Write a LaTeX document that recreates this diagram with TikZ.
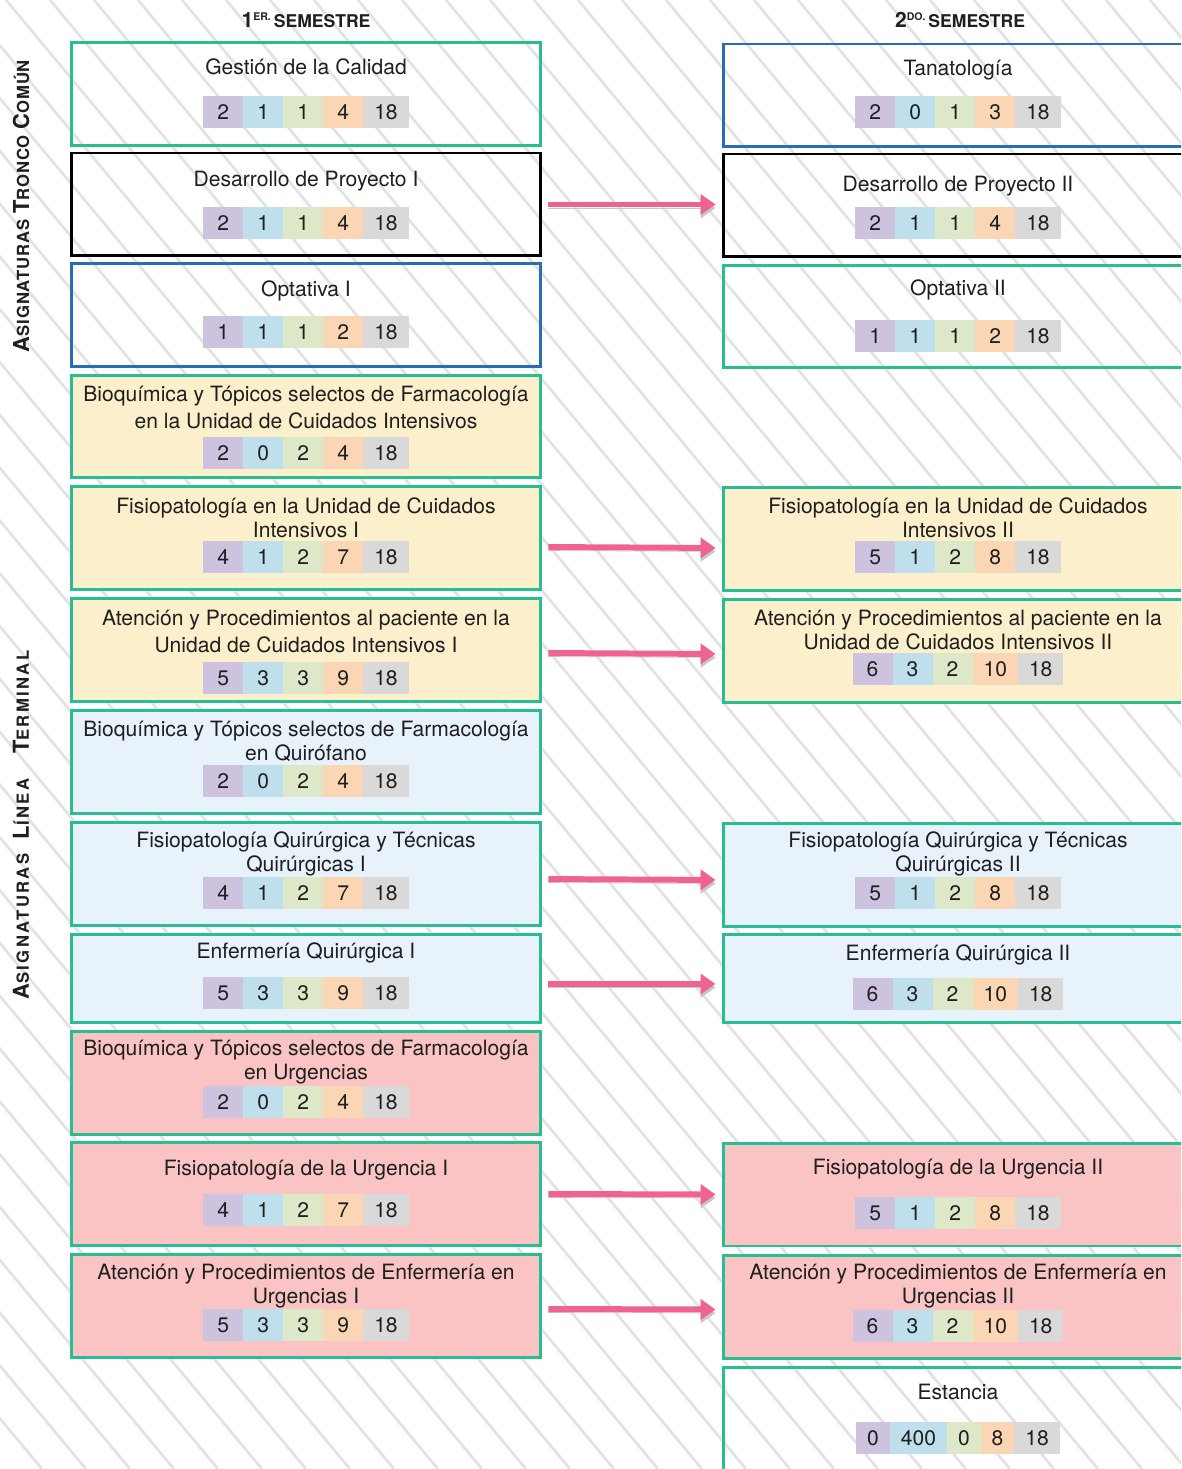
\documentclass[tikz,border=0pt]{standalone}
\usepackage{fontspec}
\setmainfont{TeX Gyre Heros}
\newfontfamily\sidefontA[LetterSpace=5]{TeX Gyre Heros}
\newfontfamily\sidefontB[LetterSpace=14]{TeX Gyre Heros}
\usetikzlibrary{arrows.meta}

\definecolor{tealb}{RGB}{40,190,145}
\definecolor{blueb}{RGB}{40,110,180}
\definecolor{cyel}{RGB}{252,240,204}
\definecolor{csky}{RGB}{232,242,251}
\definecolor{cpink}{RGB}{250,196,196}
\definecolor{cpur}{RGB}{205,195,223}
\definecolor{cblu}{RGB}{190,223,235}
\definecolor{cgrn}{RGB}{220,232,200}
\definecolor{corg}{RGB}{250,214,180}
\definecolor{cgry}{RGB}{217,217,217}
\definecolor{arrowpink}{RGB}{240,98,146}

\setlength{\fboxsep}{0pt}
\newlength\cellw
\newlength\cellmin
\setlength{\cellmin}{0.8cm}
\newcommand{\cellbox}[2]{%
  \settowidth{\cellw}{#2}%
  \addtolength{\cellw}{0.44cm}%
  \ifdim\cellw<\cellmin \setlength{\cellw}{\cellmin}\fi
  \colorbox{#1}{\makebox[\cellw]{\rule[-0.17cm]{0pt}{0.64cm}#2}}}
\newcommand{\cells}[5]{\cellbox{cpur}{#1}\cellbox{cblu}{#2}\cellbox{cgrn}{#3}\cellbox{corg}{#4}\cellbox{cgry}{#5}}
\newcommand{\capsc}[2]{{\fontsize{12.5}{14}\selectfont #1}{\fontsize{9.5}{11}\selectfont #2}}

\begin{document}
\begin{tikzpicture}[x=0.02cm, y=-0.02cm]
        \tikzstyle{hatch} = [line width=1.6pt, black!11]
        \tikzstyle{subj} = [draw, line width=1.7pt, minimum width=9.4cm, minimum height=2.06cm, inner sep=0pt]
        \tikzstyle{title} = [font=\fontsize{12}{13.6}\selectfont, align=center, text=black!88, inner sep=0pt]
        \tikzstyle{strip} = [font=\fontsize{12}{14}\selectfont, text=black!88, inner sep=0pt]
        \tikzstyle{flow} = [line width=3.4pt, arrowpink, -{Triangle[length=0.3cm,width=0.4cm]}, shorten <=0.12cm, shorten >=0.12cm, preaction={draw=black!22, transform canvas={yshift=-0.07cm}}]
        \useasboundingbox (0,0) rectangle (1181,1469);
        \clip (0,0) rectangle (1181,1469);

        % background lines
        \foreach \k in {-28,...,27}
            \draw[hatch] (6+44*\k, 0) -- ++(1224, 1469);

        % headers
        \node(Sem1)[font=\bfseries, text=black!88] at (306,20) {{\fontsize{12}{14}\selectfont 1}\raisebox{0.75ex}{\fontsize{6}{7}\selectfont ER.}\,{\fontsize{10}{12}\selectfont SEMESTRE}};
        \node(Sem2)[font=\bfseries, text=black!88] at (960,20) {{\fontsize{12}{14}\selectfont 2}\raisebox{0.75ex}{\fontsize{6}{7}\selectfont DO.}\,{\fontsize{10}{12}\selectfont SEMESTRE}};
        \node(Tronco)[rotate=90, font=\sidefontA\bfseries, text=black!88] at (21,206) {\capsc{A}{SIGNATURAS} \capsc{T}{RONCO} \capsc{C}{OMÚN}};
        \node(Linea)[rotate=90, font=\sidefontB\bfseries, text=black!88] at (21,825) {\capsc{A}{SIGNATURAS}\hspace{4pt} \capsc{L}{ÍNEA}\hspace{10pt} \capsc{T}{ERMINAL}};

        % first semester
        \node(Gestion)[subj, draw=tealb] at (306,94) {};
        \node(Proyecto1)[subj, draw=black] at (306,204.5) {};
        \node(Optativa1)[subj, draw=blueb] at (306,315) {};
        \node(BioUCI)[subj, draw=tealb, fill=cyel] at (306,426.5) {};
        \node(FisioUCI1)[subj, draw=tealb, fill=cyel] at (306,538) {};
        \node(AtenUCI1)[subj, draw=tealb, fill=cyel] at (306,650) {};
        \node(BioQuir)[subj, draw=tealb, fill=csky] at (306,762) {};
        \node(FisioQuir1)[subj, draw=tealb, fill=csky] at (306,874) {};
        \node(EnfQuir1)[subj, draw=tealb, fill=csky, minimum height=1.76cm] at (306,978.5) {};
        \node(BioUrg)[subj, draw=tealb, fill=cpink] at (306,1083) {};
        \node(FisioUrg1)[subj, draw=tealb, fill=cpink] at (306,1194) {};
        \node(AtenUrg1)[subj, draw=tealb, fill=cpink] at (306,1306) {};

        \node(Gestion t)[title] at (306,67) {Gestión de la Calidad};
        \node(Gestion n)[strip] at (306,112) {\cells{2}{1}{1}{4}{18}};
        \node(Proyecto1 t)[title] at (306,181) {Desarrollo de Proyecto I};
        \node(Proyecto1 n)[strip] at (306,223) {\cells{2}{1}{1}{4}{18}};
        \node(Optativa1 t)[title] at (306,291) {Optativa I};
        \node(Optativa1 n)[strip] at (306,332) {\cells{1}{1}{1}{2}{18}};
        \node(BioUCI t)[title, font=\fontsize{12}{15.3}\selectfont] at (306,407.5) {Bioquímica y Tópicos selectos de Farmacología\\en la Unidad de Cuidados Intensivos};
        \node(BioUCI n)[strip] at (306,453) {\cells{2}{0}{2}{4}{18}};
        \node(FisioUCI1 t)[title] at (306,518) {Fisiopatología en la Unidad de Cuidados\\Intensivos I};
        \node(FisioUCI1 n)[strip] at (306,557) {\cells{4}{1}{2}{7}{18}};
        \node(AtenUCI1 t)[title, font=\fontsize{12}{15.3}\selectfont] at (306,631.5) {Atención y Procedimientos al paciente en la\\Unidad de Cuidados Intensivos I};
        \node(AtenUCI1 n)[strip] at (306,678) {\cells{5}{3}{3}{9}{18}};
        \node(BioQuir t)[title] at (306,741.5) {Bioquímica y Tópicos selectos de Farmacología\\en Quirófano};
        \node(BioQuir n)[strip] at (306,781) {\cells{2}{0}{2}{4}{18}};
        \node(FisioQuir1 t)[title] at (306,853.5) {Fisiopatología Quirúrgica y Técnicas\\Quirúrgicas I};
        \node(FisioQuir1 n)[strip] at (306,893) {\cells{4}{1}{2}{7}{18}};
        \node(EnfQuir1 t)[title] at (306,953) {Enfermería Quirúrgica I};
        \node(EnfQuir1 n)[strip] at (306,993) {\cells{5}{3}{3}{9}{18}};
        \node(BioUrg t)[title] at (306,1062) {Bioquímica y Tópicos selectos de Farmacología\\en Urgencias};
        \node(BioUrg n)[strip] at (306,1102) {\cells{2}{0}{2}{4}{18}};
        \node(FisioUrg1 t)[title] at (306,1170) {Fisiopatología de la Urgencia I};
        \node(FisioUrg1 n)[strip] at (306,1210) {\cells{4}{1}{2}{7}{18}};
        \node(AtenUrg1 t)[title] at (306,1286) {Atención y Procedimientos de Enfermería en\\Urgencias I};
        \node(AtenUrg1 n)[strip] at (306,1325) {\cells{5}{3}{3}{9}{18}};

        % second semester
        \node(Tanatologia)[subj, draw=blueb] at (958,95.5) {};
        \node(Proyecto2)[subj, draw=black] at (958,205.5) {};
        \node(Optativa2)[subj, draw=tealb] at (958,316.5) {};
        \node(FisioUCI2)[subj, draw=tealb, fill=cyel] at (958,539) {};
        \node(AtenUCI2)[subj, draw=tealb, fill=cyel] at (958,651) {};
        \node(FisioQuir2)[subj, draw=tealb, fill=csky] at (958,875) {};
        \node(EnfQuir2)[subj, draw=tealb, fill=csky, minimum height=1.76cm] at (958,978.5) {};
        \node(FisioUrg2)[subj, draw=tealb, fill=cpink] at (958,1194.5) {};
        \node(AtenUrg2)[subj, draw=tealb, fill=cpink] at (958,1306.5) {};
        \node(Estancia)[subj, draw=tealb] at (958,1419) {};

        \node(Tanatologia t)[title] at (958,70) {Tanatología};
        \node(Tanatologia n)[strip] at (958,112) {\cells{2}{0}{1}{3}{18}};
        \node(Proyecto2 t)[title] at (958,186) {Desarrollo de Proyecto II};
        \node(Proyecto2 n)[strip] at (958,223) {\cells{2}{1}{1}{4}{18}};
        \node(Optativa2 t)[title] at (958,290) {Optativa II};
        \node(Optativa2 n)[strip] at (958,336) {\cells{1}{1}{1}{2}{18}};
        \node(FisioUCI2 t)[title] at (958,518) {Fisiopatología en la Unidad de Cuidados\\Intensivos II};
        \node(FisioUCI2 n)[strip] at (958,557) {\cells{5}{1}{2}{8}{18}};
        \node(AtenUCI2 t)[title] at (958,630) {Atención y Procedimientos al paciente en la\\Unidad de Cuidados Intensivos II};
        \node(AtenUCI2 n)[strip] at (958,669) {\cells{6}{3}{2}{10}{18}};
        \node(FisioQuir2 t)[title] at (958,854) {Fisiopatología Quirúrgica y Técnicas\\Quirúrgicas II};
        \node(FisioQuir2 n)[strip] at (958,893) {\cells{5}{1}{2}{8}{18}};
        \node(EnfQuir2 t)[title] at (958,955) {Enfermería Quirúrgica II};
        \node(EnfQuir2 n)[strip] at (958,994) {\cells{6}{3}{2}{10}{18}};
        \node(FisioUrg2 t)[title] at (958,1169) {Fisiopatología de la Urgencia II};
        \node(FisioUrg2 n)[strip] at (958,1213) {\cells{5}{1}{2}{8}{18}};
        \node(AtenUrg2 t)[title] at (958,1286) {Atención y Procedimientos de Enfermería en\\Urgencias II};
        \node(AtenUrg2 n)[strip] at (958,1326) {\cells{6}{3}{2}{10}{18}};
        \node(Estancia t)[title] at (958,1392) {Estancia};
        \node(Estancia n)[strip] at (958,1438) {\setlength{\cellmin}{0.6cm}\cells{0}{400}{0}{8}{18}};

        % arrows
        \draw[flow] (Proyecto1.east) -- (Proyecto2.west |- Proyecto1.east);
        \draw[flow] ([yshift=-0.18cm]FisioUCI1.east) -- ([yshift=-0.18cm]FisioUCI2.west);
        \draw[flow] ([yshift=-0.06cm]AtenUCI1.east) -- ([yshift=-0.06cm]AtenUCI2.west);
        \draw[flow] ([yshift=-0.1cm]FisioQuir1.east) -- ([yshift=-0.1cm]FisioQuir2.west);
        \draw[flow] ([yshift=-0.11cm]EnfQuir1.east) -- ([yshift=-0.11cm]EnfQuir2.west);
        \draw[flow] (FisioUrg1.east) -- (FisioUrg2.west);
        \draw[flow] ([yshift=-0.06cm]AtenUrg1.east) -- ([yshift=-0.06cm]AtenUrg2.west);
\end{tikzpicture}
\end{document}
